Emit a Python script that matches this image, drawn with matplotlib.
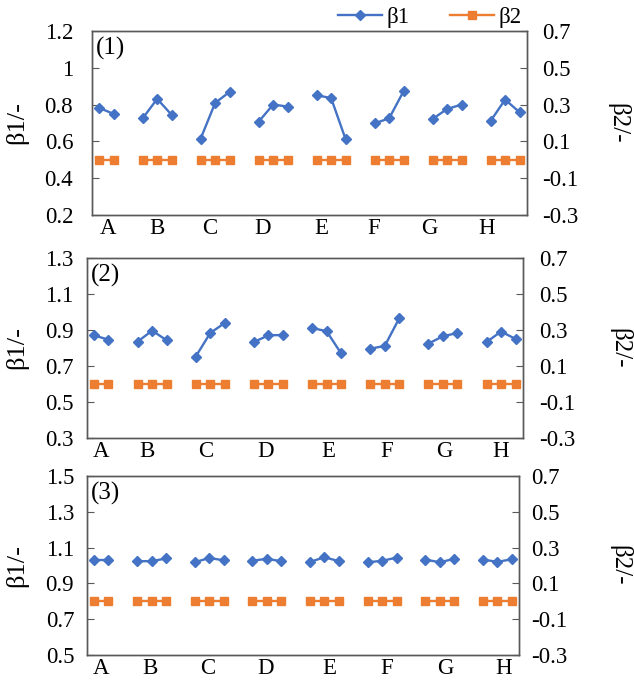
import matplotlib
matplotlib.use("Agg")
import matplotlib.pyplot as plt
import numpy as np
from matplotlib import ticker

plt.rcParams["font.family"] = ["Liberation Serif", "DejaVu Serif"]
plt.rcParams["axes.unicode_minus"] = False

# Categories; A has only two levels, the others three
categories = ["A", "B", "C", "D", "E", "F", "G", "H"]

# beta1, one list per category
beta1_p1 = [
    [0.782, 0.749],
    [0.725, 0.831, 0.744],
    [0.615, 0.809, 0.869],
    [0.707, 0.800, 0.789],
    [0.851, 0.835, 0.611],
    [0.698, 0.725, 0.873],
    [0.722, 0.776, 0.800],
    [0.711, 0.827, 0.758],
]
beta1_p2 = [
    [0.870, 0.846],
    [0.835, 0.896, 0.843],
    [0.752, 0.883, 0.939],
    [0.833, 0.870, 0.872],
    [0.911, 0.893, 0.770],
    [0.796, 0.811, 0.965],
    [0.824, 0.865, 0.883],
    [0.833, 0.891, 0.850],
]
beta1_p3 = [
    [1.029, 1.029],
    [1.024, 1.024, 1.039],
    [1.018, 1.042, 1.029],
    [1.027, 1.037, 1.024],
    [1.020, 1.046, 1.024],
    [1.018, 1.026, 1.044],
    [1.033, 1.018, 1.037],
    [1.033, 1.020, 1.035],
]
# beta2 is zero everywhere
beta2_p1 = [[0.0] * len(g) for g in beta1_p1]
beta2_p2 = [[0.0] * len(g) for g in beta1_p2]
beta2_p3 = [[0.0] * len(g) for g in beta1_p3]

panel_names = ["(1)", "(2)", "(3)"]
left_ylims = [(0.2, 1.2), (0.3, 1.3), (0.5, 1.5)]
right_ylim = (-0.3, 0.7)

BLUE = "#4472C4"
ORANGE = "#ED7D31"
SPINE = "#595959"

# layout (figure fractions) and label placement, tuned by eye
boxes = [
    [0.145, 0.6848, 0.686, 0.2698],
    [0.1367, 0.3578, 0.688, 0.264],
    [0.1367, 0.0396, 0.682, 0.2625],
]
label_pos = [
    [0.6, 4.0, 7.6, 11.3, 15.3, 18.9, 22.8, 26.7],
    [0.5, 3.65, 7.7, 11.8, 16.1, 20.1, 24.1, 28.0],
    [0.5, 3.9, 7.9, 11.9, 16.3, 20.3, 24.4, 28.4],
]
# x pixel of the centre of the y-axis titles
ylab_px = [(17, 618), (17, 620), (17, 620)]
left_pad = [13.5, 9.5, 9]
right_pad = [11, 12, 8.5]

W, H = 634, 682
TICK_FS = 16.5


def group_x(gi, n):
    # each category takes 4 slots (3 levels + gap); short groups are right-aligned
    start = 4 * gi - 1 + (3 - n)
    return np.arange(start, start + n)


fig = plt.figure(figsize=(W / 100, H / 100), dpi=100)

b1_all = [beta1_p1, beta1_p2, beta1_p3]
b2_all = [beta2_p1, beta2_p2, beta2_p3]
h1 = h2 = None
for k in range(3):
    ax = fig.add_axes(boxes[k])
    ax2 = ax.twinx()
    for gi, (v1, v2) in enumerate(zip(b1_all[k], b2_all[k])):
        xs = group_x(gi, len(v1))
        (h2,) = ax2.plot(xs, v2, color=ORANGE, marker="s", markersize=6,
                         linewidth=1.7, clip_on=False)
        (h1,) = ax.plot(xs, v1, color=BLUE, marker="D", markersize=4.6,
                        linewidth=1.7, zorder=3)
    ax.set_zorder(ax2.get_zorder() + 1)
    ax.patch.set_visible(False)

    ax.set_xlim(-0.5, 29.5)
    lo, hi = left_ylims[k]
    ax.set_ylim(lo, hi)
    ax.set_yticks(np.arange(lo, hi + 0.01, 0.2))
    ax.yaxis.set_major_formatter(ticker.FormatStrFormatter("%g"))
    ax2.set_ylim(*right_ylim)
    ax2.set_yticks(np.arange(-0.3, 0.71, 0.2))
    ax2.yaxis.set_major_formatter(ticker.FormatStrFormatter("%g"))

    ax.set_xticks(label_pos[k])
    ax.set_xticklabels(categories)
    ax.tick_params(axis="x", length=0, pad=2, labelsize=TICK_FS)
    ax.tick_params(axis="y", direction="in", length=5, color=SPINE,
                   labelsize=TICK_FS, pad=left_pad[k])
    ax2.tick_params(axis="y", direction="in", length=5, color=SPINE,
                    labelsize=TICK_FS, pad=right_pad[k])

    for a in (ax, ax2):
        for s in a.spines.values():
            s.set_color(SPINE)
            s.set_linewidth(1.0)

    x0, y0, w, h = boxes[k]
    yc = y0 + h / 2
    fig.text(ylab_px[k][0] / W, yc, "β1/-", fontsize=19, rotation=90,
             ha="center", va="center")
    fig.text(ylab_px[k][1] / W, yc, "β2/-", fontsize=18, rotation=270,
             ha="center", va="center")

    ax.text(0.01, 0.905, panel_names[k], transform=ax.transAxes,
            fontsize=18, va="center", ha="left")

fig.legend([h1, h2], ["β1", "β2"], loc="center", bbox_to_anchor=(0.678, 0.975),
           ncol=2, frameon=False, fontsize=16.5, handlelength=1.9,
           handletextpad=0.2, columnspacing=1.8, borderpad=0.1)

fig.savefig("out.png", dpi=100)
